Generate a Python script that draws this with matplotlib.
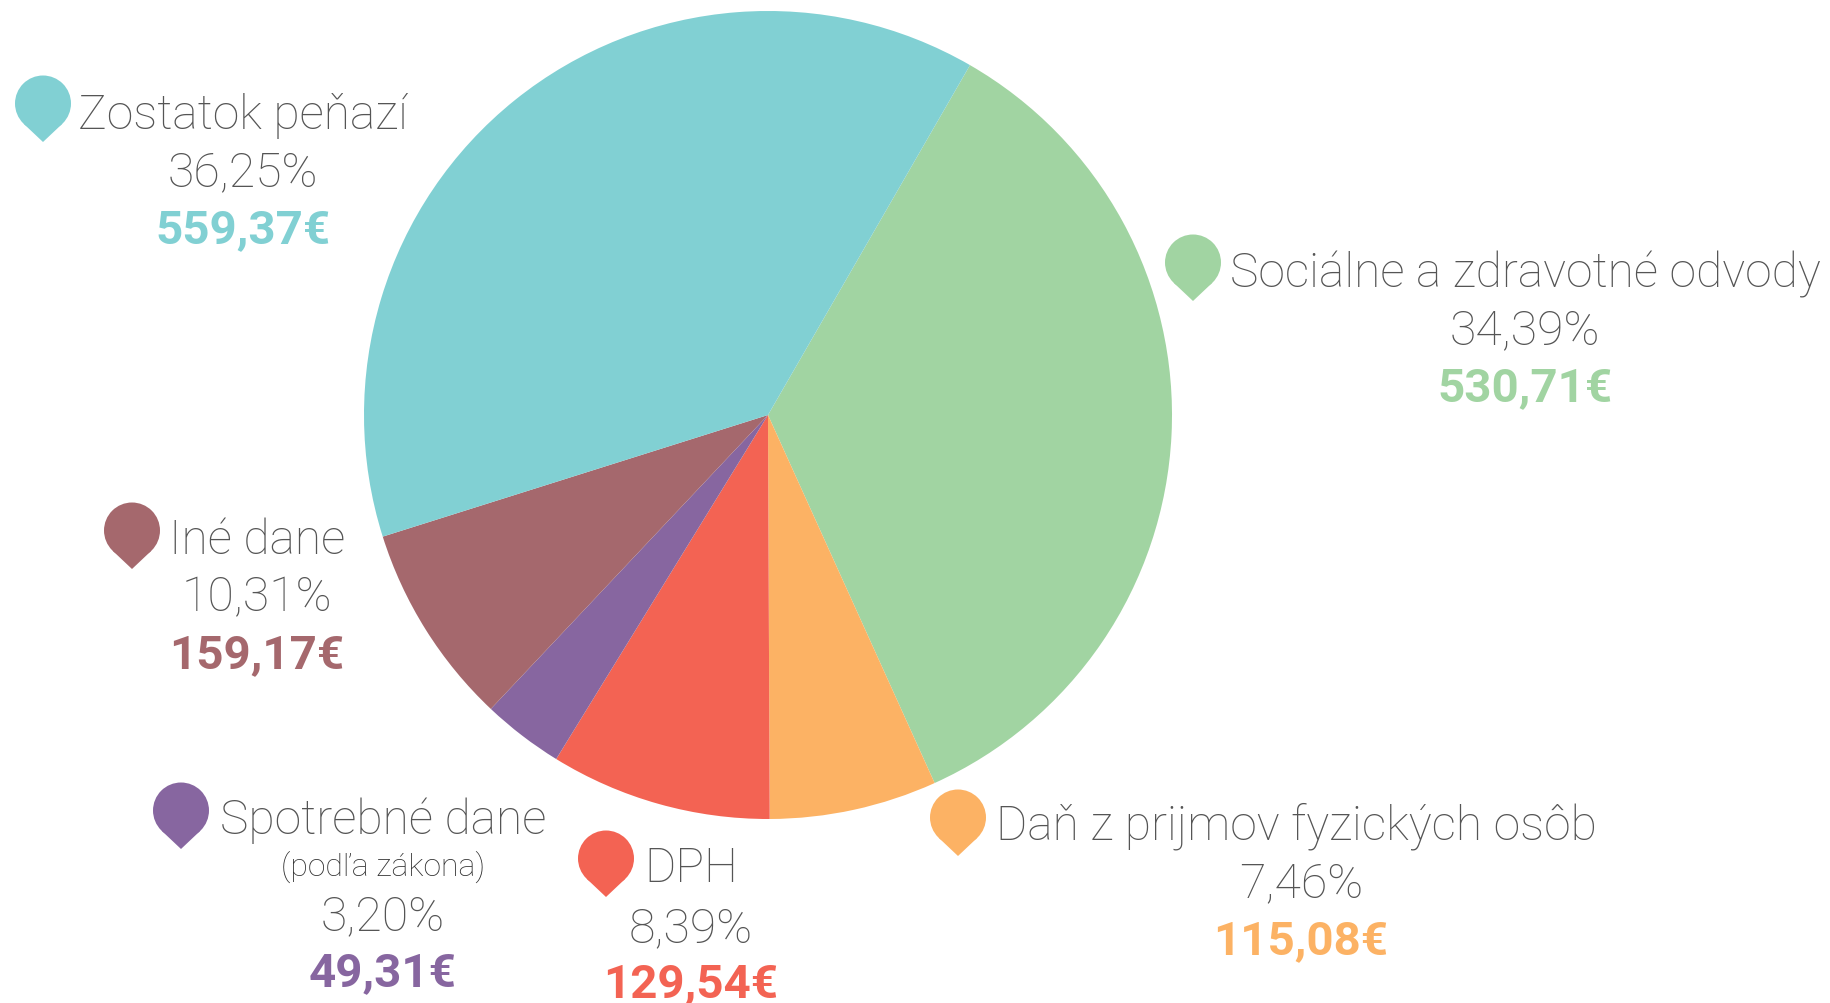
import math
import matplotlib
matplotlib.use("Agg")
import matplotlib.pyplot as plt
from matplotlib.patches import Circle, Polygon

# shares as drawn in the picture (clockwise from the 60 degree boundary)
categories = ["Sociálne a zdravotné odvody", "Daň z prijmov fyzických osôb", "DPH",
              "Spotrebné dane", "Iné dane", "Zostatok peňazí"]
drawn_shares = [34.9, 6.7, 8.85, 3.25, 8.1, 38.2]
percent_labels = ["34,39%", "7,46%", "8,39%", "3,20%", "10,31%", "36,25%"]
euro_labels = ["530,71€", "115,08€", "129,54€", "49,31€", "159,17€", "559,37€"]
colors = ["#A1D4A2", "#FCB264", "#F36353", "#8766A0", "#A5686D", "#81D0D3"]
note = "(podľa zákona)"

W, H = 1830, 1004
fig = plt.figure(figsize=(W / 100, H / 100), dpi=100)
ax = fig.add_axes([0, 0, 1, 1])
ax.set_xlim(0, W)
ax.set_ylim(0, H)
ax.axis("off")
Y = lambda y: H - y

ax.pie(drawn_shares, colors=colors, startangle=60, counterclock=False,
       center=(768, Y(416)), radius=404, wedgeprops=dict(linewidth=0))
ax.set_xlim(0, W)
ax.set_ylim(0, H)
ax.set_aspect("auto")

GRAY = "#555555"
PX = 0.72
# layout: tip of the pin, x of the name, x of the numbers, baseline of the name
layout = {
    "Sociálne a zdravotné odvody": ((1193, 302), 1525, 1525, 287),
    "Daň z prijmov fyzických osôb": ((958, 857), 1296, 1301, 840),
    "DPH": ((606, 898), 691, 691, 882),
    "Spotrebné dane": ((181, 850), 383, 383, 834),
    "Iné dane": ((132, 570), 257, 257, 554),
    "Zostatok peňazí": ((43, 143), 243, 243, 129),
}
LIGHT = dict(family="Roboto", weight=100, color=GRAY, ha="center", va="baseline")


def pin(tip, color, r=28.0, dist=38.5):
    tx, ty = tip
    cy = ty - dist
    ax.add_patch(Circle((tx, Y(cy)), r, fc=color, ec="none"))
    a = math.acos(r / dist)
    dx, dy = r * math.sin(a), r * math.cos(a)
    ax.add_patch(Polygon([(tx, Y(ty)), (tx - dx, Y(cy + dy)), (tx, Y(cy)), (tx + dx, Y(cy + dy))],
                         closed=True, fc=color, ec="none"))


for name, pct, eur, c in zip(categories, percent_labels, euro_labels, colors):
    tip, nx, cx, base = layout[name]
    pin(tip, c)
    ax.text(nx, Y(base), name, fontsize=48 * PX, **LIGHT)
    if name == "Spotrebné dane":
        ax.text(cx, Y(base + 42), note, fontsize=32 * PX, family="Roboto", weight=100,
                color="#333333", ha="center", va="baseline")
        pb, eb = base + 96, base + 152
    elif name == "DPH":
        pb, eb = base + 60, base + 115
    else:
        pb, eb = base + 57, base + 114
    ax.text(cx, Y(pb), pct, fontsize=48.3 * PX, **LIGHT)
    ax.text(cx, Y(eb), eur, fontsize=47.5 * PX, family="Roboto", weight=700, color=c,
            ha="center", va="baseline")

fig.savefig("out.png", dpi=100, facecolor="white")
